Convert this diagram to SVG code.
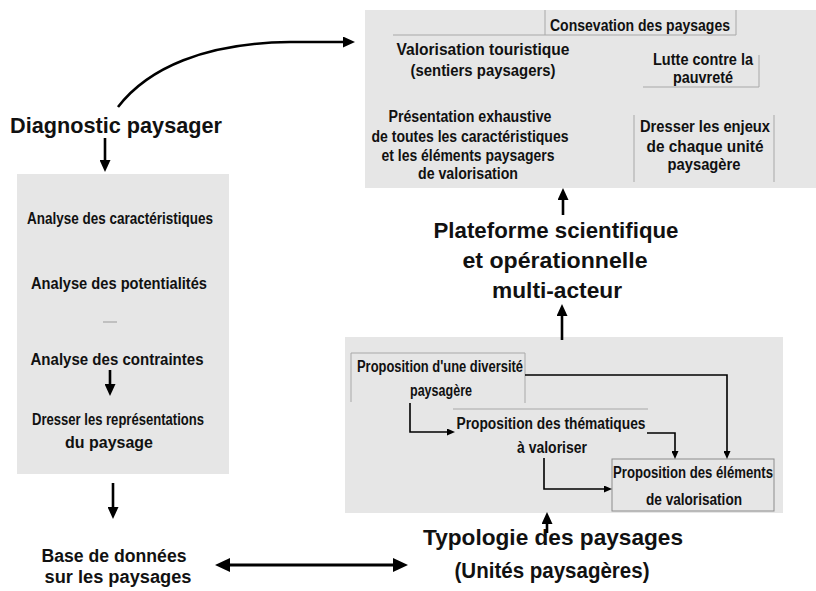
<svg xmlns="http://www.w3.org/2000/svg" width="816" height="591" viewBox="0 0 816 591">
<style>
.t{font-family:"Liberation Sans",Arial,sans-serif;font-weight:bold;fill:#111;text-anchor:middle}
.s{font-size:16px}
.a{font-size:16.5px}
.m{font-size:17.5px}
.l{font-size:22.5px}
.panel{fill:#e6e6e6}
.sub{fill:none;stroke:#a8a8a8;stroke-width:1}
.c{fill:none;stroke:#000;stroke-width:1.6}
.k{fill:none;stroke:#000;stroke-width:2.6}
</style>
<defs>
<marker id="sa" viewBox="0 0 8 7" refX="1" refY="3.5" markerWidth="8" markerHeight="7" markerUnits="userSpaceOnUse" orient="auto"><path d="M0,0 L8,3.5 L0,7 z" fill="#000"/></marker>
<marker id="ba" viewBox="0 0 12 11" refX="1" refY="5.5" markerWidth="12" markerHeight="11" markerUnits="userSpaceOnUse" orient="auto-start-reverse"><path d="M0,0 L12,5.5 L0,11 z" fill="#000"/></marker>
<marker id="da" viewBox="0 0 15 14" refX="1" refY="7" markerWidth="15" markerHeight="14" markerUnits="userSpaceOnUse" orient="auto-start-reverse"><path d="M0,0 L15,7 L0,14 z" fill="#000"/></marker>
</defs>

<g id="objectifs">
<rect class="panel" x="365" y="10" width="451" height="178"/>
<path class="sub" d="M545,10 V35 M393,35 H736 V10"/>
<path class="sub" d="M643,87 H759 V55"/>
<path class="sub" d="M634,115 V182 M774,115 V182"/>
<text class="t s" x="640" y="31" textLength="180" lengthAdjust="spacingAndGlyphs">Consevation des paysages</text>
<text class="t s" x="483" y="55" textLength="173" lengthAdjust="spacingAndGlyphs">Valorisation touristique</text>
<text class="t s" x="483" y="76" textLength="145" lengthAdjust="spacingAndGlyphs">(sentiers paysagers)</text>
<text class="t s" x="703" y="65" textLength="100" lengthAdjust="spacingAndGlyphs">Lutte contre la</text>
<text class="t s" x="703" y="83" textLength="60" lengthAdjust="spacingAndGlyphs">pauvreté</text>
<text class="t s" x="470" y="122" textLength="163" lengthAdjust="spacingAndGlyphs">Présentation exhaustive</text>
<text class="t s" x="470" y="142" textLength="197" lengthAdjust="spacingAndGlyphs">de toutes les caractéristiques</text>
<text class="t s" x="468" y="161" textLength="173" lengthAdjust="spacingAndGlyphs">et les éléments paysagers</text>
<text class="t s" x="468" y="179" textLength="100" lengthAdjust="spacingAndGlyphs">de valorisation</text>
<text class="t s" x="705" y="132" textLength="130" lengthAdjust="spacingAndGlyphs">Dresser les enjeux</text>
<text class="t s" x="705" y="152" textLength="117" lengthAdjust="spacingAndGlyphs">de chaque unité</text>
<text class="t s" x="704" y="170" textLength="73" lengthAdjust="spacingAndGlyphs">paysagère</text>
</g>

<g id="plateforme">
<text class="t l" x="556" y="238" textLength="245" lengthAdjust="spacingAndGlyphs">Plateforme scientifique</text>
<text class="t l" x="555" y="268" textLength="185" lengthAdjust="spacingAndGlyphs">et opérationnelle</text>
<text class="t l" x="557" y="298" textLength="130" lengthAdjust="spacingAndGlyphs">multi-acteur</text>
</g>

<g id="propositions">
<rect class="panel" x="345" y="337" width="438" height="176"/>
<path class="sub" d="M351,402 V353 H525 V403"/>
<path class="sub" d="M453,409 H648"/>
<rect x="612" y="459" width="162" height="52" fill="none" stroke="#8c8c8c" stroke-width="1"/>
<text class="t s" x="440" y="372" textLength="166" lengthAdjust="spacingAndGlyphs">Proposition d'une diversité</text>
<text class="t s" x="441" y="396" textLength="62" lengthAdjust="spacingAndGlyphs">paysagère</text>
<text class="t s" x="551" y="429" textLength="189" lengthAdjust="spacingAndGlyphs">Proposition des thématiques</text>
<text class="t s" x="552" y="453" textLength="70" lengthAdjust="spacingAndGlyphs">à valoriser</text>
<text class="t s" x="693" y="478" textLength="160" lengthAdjust="spacingAndGlyphs">Proposition des éléments</text>
<text class="t s" x="694" y="505" textLength="96" lengthAdjust="spacingAndGlyphs">de valorisation</text>
</g>

<g id="diagnostic">
<text class="t l" x="116" y="133" textLength="212" lengthAdjust="spacingAndGlyphs">Diagnostic paysager</text>
</g>

<g id="analyses">
<rect class="panel" x="17" y="174" width="212" height="300"/>
<text class="t a" x="120" y="224" textLength="186" lengthAdjust="spacingAndGlyphs">Analyse des caractéristiques</text>
<text class="t a" x="119" y="289" textLength="176" lengthAdjust="spacingAndGlyphs">Analyse des potentialités</text>
<path d="M103,322 H117" stroke="#9a9a9a" stroke-width="1"/>
<text class="t a" x="117" y="365" textLength="173" lengthAdjust="spacingAndGlyphs">Analyse des contraintes</text>
<text class="t a" x="118" y="425" textLength="172" lengthAdjust="spacingAndGlyphs">Dresser les représentations</text>
<text class="t a" x="109" y="448" textLength="88" lengthAdjust="spacingAndGlyphs">du paysage</text>
</g>

<g id="base">
<text class="t m" x="114" y="562" textLength="145" lengthAdjust="spacingAndGlyphs">Base de données</text>
<text class="t m" x="118" y="583" textLength="147" lengthAdjust="spacingAndGlyphs">sur les paysages</text>
</g>

<g id="typologie">
<text class="t l" x="553" y="545" textLength="260" lengthAdjust="spacingAndGlyphs">Typologie des paysages</text>
<text class="t l" x="552" y="578" textLength="195" lengthAdjust="spacingAndGlyphs">(Unités paysagères)</text>
</g>

<g id="connectors">
<path class="k" d="M118,107 C148,68 205,43 290,42 L344,42" marker-end="url(#ba)"/>
<path class="k" d="M105,138 V161" marker-end="url(#ba)"/>
<path class="k" d="M110,370 V385" marker-end="url(#ba)"/>
<path class="k" d="M113,483 V508" marker-end="url(#ba)"/>
<path d="M229,565 H394" fill="none" stroke="#000" stroke-width="3.2" marker-start="url(#da)" marker-end="url(#da)"/>
<path class="k" d="M547,533 V523" marker-end="url(#ba)"/>
<path class="k" d="M562,340 V315" marker-end="url(#ba)"/>
<path class="k" d="M563,215 V199" marker-end="url(#ba)"/>
<path class="c" d="M525,375 H727 V452" marker-end="url(#sa)"/>
<path class="c" d="M410,403 V432 H448" marker-end="url(#sa)"/>
<path class="c" d="M647,433 H675 V452" marker-end="url(#sa)"/>
<path class="c" d="M544,458 V489 H605" marker-end="url(#sa)"/>
</g>
</svg>
